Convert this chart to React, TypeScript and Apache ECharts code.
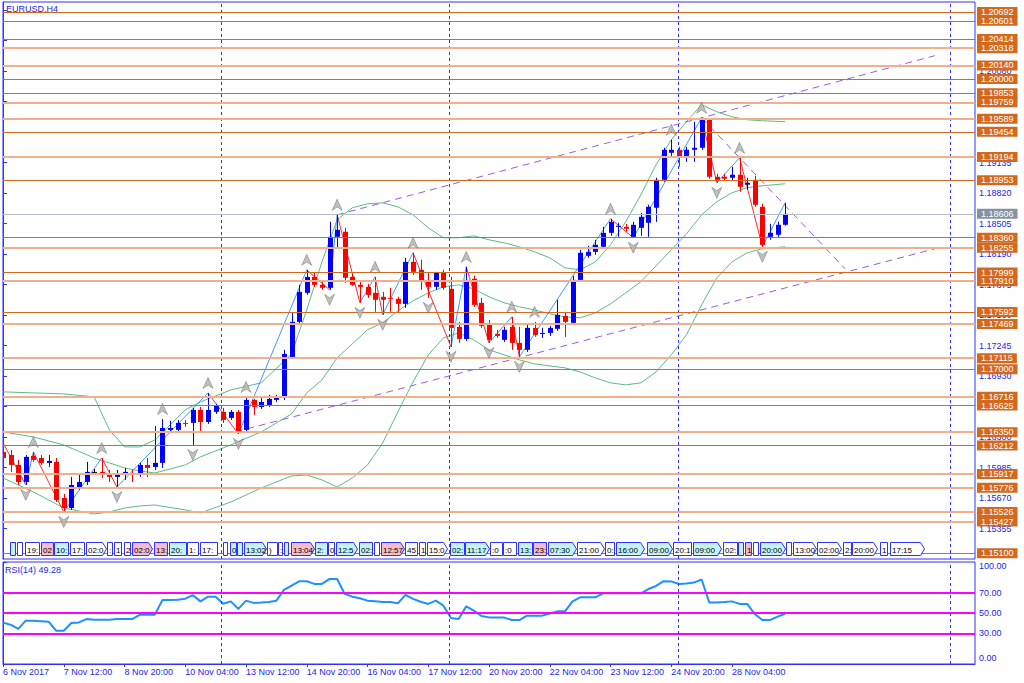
import React, { useEffect, useRef } from "react";
import * as echarts from "echarts";

const FONT = "Liberation Sans";
const BLUE = "#3030ff";
const TEXT_BLUE = "#2424f0";

const PRICE_MIN = 1.1504;
const PRICE_MAX = 1.20795;
const PRICE_STEP = 0.00315;

const X_TICK_LABELS = [
  "6 Nov 2017", "7 Nov 12:00", "8 Nov 20:00", "10 Nov 04:00", "13 Nov 12:00",
  "14 Nov 20:00", "16 Nov 04:00", "17 Nov 12:00", "20 Nov 20:00", "22 Nov 04:00",
  "23 Nov 12:00", "24 Nov 20:00", "28 Nov 04:00",
];
const X_TICK_VALUES = [0, 8, 16, 24, 32, 40, 48, 56, 64, 72, 80, 88, 96];

const opens = [
  1.16146, 1.16115, 1.16012, 1.15836, 1.16105, 1.16084, 1.16033, 1.16043, 1.15671, 1.15567,
  1.15784, 1.15836, 1.1594, 1.1594, 1.15908, 1.15888, 1.15908, 1.15929, 1.15908, 1.16012,
  1.15991, 1.16033, 1.16374, 1.16374, 1.16446, 1.16446, 1.1658, 1.16456, 1.1656, 1.1656,
  1.16498, 1.1656, 1.16374, 1.16684, 1.16611, 1.16632, 1.16684, 1.16705, 1.17128, 1.1749,
  1.1779, 1.17955, 1.17873, 1.17842, 1.18369, 1.18421, 1.17955, 1.17873, 1.17852, 1.1779,
  1.17749, 1.17738, 1.17728, 1.17676, 1.1811, 1.18028, 1.17924, 1.17852, 1.17997, 1.17831,
  1.17439, 1.17314, 1.17935, 1.17687, 1.17459, 1.17366, 1.17304, 1.17439, 1.17273, 1.17201,
  1.17428, 1.17366, 1.17376, 1.17418, 1.17552, 1.1748, 1.17924, 1.18173, 1.18214, 1.18266,
  1.1841, 1.18472, 1.18472, 1.18369, 1.18462, 1.18514, 1.18669, 1.18958, 1.19237, 1.19268,
  1.19196, 1.19268, 1.19289, 1.19578, 1.18989, 1.18989, 1.18979, 1.1901, 1.18907, 1.18958,
  1.18679, 1.18369, 1.1839, 1.18493,
];
const highs = [
  1.16239, 1.16167, 1.16064, 1.16115, 1.16146, 1.16115, 1.16115, 1.16084, 1.15712, 1.15888,
  1.15908, 1.16043, 1.15971, 1.16084, 1.1596, 1.1596, 1.15981, 1.1596, 1.16033, 1.16084,
  1.16415, 1.16487, 1.16467, 1.16477, 1.16477, 1.16601, 1.16611, 1.16756, 1.16642, 1.16601,
  1.1658, 1.1658, 1.16715, 1.16694, 1.16705, 1.16736, 1.16736, 1.17201, 1.17583, 1.17873,
  1.18028, 1.18007, 1.17904, 1.18524, 1.18596, 1.18462, 1.17986, 1.17904, 1.17883, 1.17955,
  1.178, 1.17842, 1.17749, 1.18152, 1.18204, 1.18131, 1.18007, 1.18007, 1.18028, 1.17955,
  1.1749, 1.18059, 1.17966, 1.17738, 1.17511, 1.17408, 1.17439, 1.17542, 1.17439, 1.17459,
  1.1749, 1.17428, 1.17449, 1.17718, 1.17594, 1.17966, 1.18235, 1.18276, 1.18338, 1.18472,
  1.18555, 1.18514, 1.18503, 1.18524, 1.18617, 1.187, 1.18979, 1.19289, 1.19372, 1.19299,
  1.19299, 1.19558, 1.19599, 1.19589, 1.1902, 1.1902, 1.19093, 1.19186, 1.18979, 1.19,
  1.1871, 1.18503, 1.18524, 1.1872,
];
const lows = [
  1.16043, 1.1594, 1.15805, 1.15805, 1.16043, 1.16012, 1.15991, 1.15629, 1.15526, 1.15547,
  1.15753, 1.15805, 1.15908, 1.15877, 1.15836, 1.15784, 1.15857, 1.15836, 1.15888, 1.15888,
  1.1596, 1.15981, 1.16343, 1.16353, 1.16405, 1.16219, 1.16353, 1.16436, 1.16539, 1.16446,
  1.16477, 1.16332, 1.16353, 1.16529, 1.16591, 1.16611, 1.16663, 1.16684, 1.17118, 1.17459,
  1.17769, 1.17852, 1.17821, 1.17821, 1.18255, 1.17893, 1.17862, 1.17687, 1.17738, 1.17594,
  1.17563, 1.17594, 1.17594, 1.17635, 1.17976, 1.17821, 1.17738, 1.17821, 1.17821, 1.17232,
  1.17273, 1.17294, 1.17645, 1.17428, 1.17273, 1.17325, 1.17283, 1.17201, 1.17128, 1.1718,
  1.17335, 1.17325, 1.17345, 1.17397, 1.17335, 1.17459, 1.17904, 1.18152, 1.18183, 1.18245,
  1.18379, 1.18369, 1.18421, 1.18359, 1.18379, 1.18369, 1.18524, 1.18938, 1.19196, 1.19093,
  1.19144, 1.19144, 1.19268, 1.18969, 1.18927, 1.18948, 1.18948, 1.18834, 1.18855, 1.18679,
  1.18266, 1.18338, 1.18369, 1.18483,
];
const closes = [
  1.16084, 1.16012, 1.15836, 1.16095, 1.16064, 1.16033, 1.16053, 1.1565, 1.15567, 1.15805,
  1.15836, 1.1594, 1.1594, 1.15908, 1.15888, 1.15919, 1.1594, 1.15908, 1.16012, 1.15981,
  1.16033, 1.16394, 1.16394, 1.16446, 1.16436, 1.1658, 1.16456, 1.1658, 1.16622, 1.16477,
  1.1656, 1.16353, 1.16684, 1.16611, 1.16663, 1.16694, 1.16715, 1.17159, 1.1749, 1.178,
  1.17955, 1.17873, 1.17842, 1.18369, 1.18441, 1.17945, 1.17873, 1.17852, 1.17769, 1.17718,
  1.17718, 1.17728, 1.17676, 1.1811, 1.18007, 1.17904, 1.17852, 1.17997, 1.17842, 1.17428,
  1.17314, 1.17924, 1.17666, 1.17449, 1.17304, 1.17345, 1.17408, 1.17273, 1.17201, 1.17428,
  1.17356, 1.17376, 1.17428, 1.17563, 1.1749, 1.17924, 1.18204, 1.18214, 1.18286, 1.1841,
  1.18524, 1.18483, 1.18452, 1.18493, 1.18576, 1.18679, 1.18958, 1.19268, 1.19268, 1.19196,
  1.19268, 1.19289, 1.19578, 1.18989, 1.18958, 1.18969, 1.1901, 1.18886, 1.18927, 1.187,
  1.18286, 1.1841, 1.18493, 1.18606,
];

const bandBars = [
  0, 4, 8, 12, 14, 16, 18, 20, 24, 26, 30, 34, 38, 40, 42, 44, 46, 48, 50, 52, 54, 56, 58,
  60, 62, 64, 66, 68, 70, 72, 74, 76, 78, 80, 82, 84, 86, 88, 90, 92, 94, 96, 98, 100, 103,
];
const upperBand = [
  1.16767, 1.16756, 1.16746, 1.16715, 1.16374, 1.16198, 1.16198, 1.1627, 1.1658, 1.16663,
  1.16787, 1.1686, 1.17159, 1.17614, 1.1811, 1.18545, 1.18669, 1.1871, 1.1872, 1.18679,
  1.18596, 1.18462, 1.18359, 1.18359, 1.18379, 1.18338, 1.18307, 1.18266, 1.18214, 1.18152,
  1.18048, 1.18028, 1.1811, 1.18286, 1.18524, 1.18803, 1.19113, 1.19372, 1.19558, 1.19734,
  1.19661, 1.19609, 1.19578, 1.19568, 1.19558,
];
const middleBand = [
  1.16353, 1.16301, 1.16219, 1.16084, 1.16033, 1.15981, 1.1595, 1.15929, 1.16012, 1.16095,
  1.16219, 1.16353, 1.16539, 1.16756, 1.16891, 1.17118, 1.17263, 1.17408, 1.1748, 1.17604,
  1.17707, 1.1779, 1.17852, 1.17873, 1.17831, 1.17749, 1.17687, 1.17645, 1.17614, 1.17573,
  1.17542, 1.17532, 1.17583, 1.17676, 1.1779, 1.17904, 1.18069, 1.18235, 1.184, 1.18596,
  1.18731, 1.18824, 1.18876, 1.18896, 1.18917,
];
const lowerBand = [
  1.15877, 1.15733, 1.15567, 1.15505, 1.15526, 1.15567, 1.15588, 1.15598, 1.15547, 1.15516,
  1.15629, 1.15774, 1.15898, 1.15908, 1.15857, 1.15784, 1.15877, 1.16012, 1.16239, 1.1656,
  1.1687, 1.17149, 1.17325, 1.17376, 1.17304, 1.17201, 1.17149, 1.17097, 1.17056, 1.17035,
  1.17015, 1.16973, 1.16911, 1.1686, 1.16839, 1.1686, 1.16973, 1.17149, 1.17356, 1.17666,
  1.17945, 1.1811, 1.18204, 1.18245, 1.18266,
];

const rsi = [
  40.6, 38.5, 34.5, 42.5, 42.5, 42, 41.5, 32.6, 32.6, 40.2,
  40.8, 44, 43.4, 43.4, 43.4, 44, 44.1, 44.1, 48.2, 48.3,
  48.4, 62.8, 62.8, 62.9, 64, 67.5, 61.4, 66, 66, 59,
  61.4, 54, 62.1, 59.9, 60.3, 60.8, 62.1, 72.6, 76.9, 81.1,
  81.1, 78.5, 78.5, 83.4, 83.4, 68.7, 66, 64.5, 62.1, 61.5,
  60.8, 60.8, 59.5, 67.7, 63.8, 61, 58.9, 62.1, 57.2, 45.1,
  44.1, 56.5, 52.3, 47, 45.7, 45.7, 45.5, 43.1, 43.1, 47.4,
  47.4, 47.4, 49.5, 51.6, 51.6, 61.4, 65.4, 65.4, 65.4, 69.3,
  69.3, 69.3, 69.3, 69.3, 69.3, 73.5, 76.5, 81.2, 81, 78.5,
  79, 79.8, 82.8, 60.4, 60.4, 60.8, 61.4, 58.9, 58.9, 49,
  43.1, 43.1, 46.5, 49.28,
];
const rsiLevels = [30, 50, 70];

const zigzagBars = [0, 3, 4, 8, 13, 15, 27, 31, 40, 43, 44, 47, 49, 50, 54, 59, 61, 64, 67, 68, 80, 83, 92, 94, 97, 100, 103];
const fractalUp = [4, 13, 21, 27, 32, 40, 44, 49, 54, 61, 67, 70, 80, 88, 92, 97];
const fractalDown = [3, 8, 15, 25, 31, 43, 47, 50, 56, 59, 64, 68, 83, 94, 100];

const trendStart = [[44, 1.18596], [30.6, 1.16353], [92, 1.19599]];
const trendEnd = [[122.7, 1.2024], [122.7, 1.18245], [110.9, 1.18038]];

const weekSeparators = [28.8, 58.8, 88.9, 124.7];

const levels = [
  1.20692, 1.20601, 1.20414, 1.20318, 1.2014, 1.2, 1.19853, 1.19759, 1.19589, 1.19454,
  1.19194, 1.18953, 1.1836, 1.18255, 1.17999, 1.1791, 1.17592, 1.17469, 1.17115, 1.17,
  1.16716, 1.16625, 1.1635, 1.16212, 1.15917, 1.15776, 1.15526, 1.15427, 1.151,
];
const levelKind = [
  "d", "d", "d", "l", "l", "d", "d", "l", "l", "d",
  "l", "d", "d", "l", "d", "l", "d", "l", "l", "d",
  "l", "d", "l", "d", "l", "l", "l", "l", "d",
];
const currentPrice = 1.18606;

const boxStart = [
  0.92, 1.88, 2.9, 4.96, 6.72, 8.82, 10.93, 13.7, 14.62, 15.93, 16.95, 19.88, 21.86, 24.23, 25.94,
  28.93, 29.89, 30.81, 31.74, 34.76, 36.21, 37.0, 37.92, 41.08, 42.8, 43.85, 46.88, 48.85, 49.78,
  52.94, 54.78, 55.83, 58.86, 60.84, 64.13, 65.84, 67.82, 69.79, 71.77, 75.59, 79.27, 80.72, 84.8,
  88.23, 90.86, 94.81, 96.79, 97.71, 98.76, 99.68, 103.11, 104.03, 107.19, 110.61, 111.8, 115.49, 116.8,
];
const boxEnd = [
  1.71, 2.67, 4.87, 6.62, 8.73, 10.8, 13.7, 14.5, 15.67, 16.82, 19.75, 21.73, 24.23, 25.81, 28.31,
  29.63, 30.81, 31.6, 34.76, 36.21, 36.9, 37.66, 41.08, 42.8, 43.72, 46.75, 48.72, 49.64, 52.94,
  54.65, 55.7, 58.6, 60.84, 64.13, 65.84, 67.68, 69.79, 71.64, 75.59, 79.27, 80.59, 84.54, 88.23,
  90.73, 94.68, 96.79, 97.58, 98.63, 99.55, 103.11, 103.9, 107.19, 110.48, 111.8, 115.22, 116.54, 121.41,
];
const boxText = [
  "1", "1", "19:", "02:", "10:", "17:", "02:00", ":", "1", "2", "02:01", "13:", "20:00", "1:", "17:",
  "0", "0", "1", "13:02", ")", ":", "0", "13:04", "2:", "0", "12:5", "02:", "1", "12:57",
  "45", "1", "15:0", "02:", "11:17", ":00", ":0", "13:", "23:", "07:30", "21:00", "0:", "16:00", "09:00",
  "20:15", "09:00", "02:", "0", "1", "1", "20:00", "1", "13:00", "02:00", "2:", "20:00", "1", "17:15",
];
const boxKind = [
  "c", "w", "w", "p", "c", "w", "w", "w", "w", "w", "p", "p", "c", "w", "w",
  "w", "c", "c", "c", "w", "w", "c", "p", "c", "w", "c", "c", "w", "p",
  "w", "w", "w", "c", "c", "w", "w", "c", "p", "c", "w", "w", "c", "c",
  "w", "c", "w", "c", "p", "w", "c", "w", "w", "w", "w", "w", "w", "w",
];

function buildOption() {
  const candleData = opens.map((o, i) => [i, o, highs[i], lows[i], closes[i]]);

  const zzSegments: any[] = [];
  for (let k = 0; k < zigzagBars.length - 1; k++) {
    const a = zigzagBars[k];
    const b = zigzagBars[k + 1];
    const aHigh = k % 2 === 0;
    const pa = aHigh ? highs[a] : lows[a];
    const pb = aHigh ? lows[b] : highs[b];
    zzSegments.push({
      coords: [[a, pa], [b, pb]],
      lineStyle: { color: aHigh ? "#ff2a2a" : "#3d9bff", width: 1, opacity: 1 },
    });
  }

  const levelLines: any[] = levels.map((v, k) => ({
    yAxis: v,
    lineStyle: {
      color: levelKind[k] === "d" ? "#d2691e" : "#efb08a",
      width: levelKind[k] === "d" ? 1 : 2,
      type: "solid",
    },
    label: {
      show: true,
      position: "end",
      distance: 2,
      formatter: v.toFixed(5),
      color: "#ffffff",
      backgroundColor: "#d2691e",
      padding: [1, 4, 0, 4],
      fontSize: 9,
      fontFamily: FONT,
    },
  }));
  levelLines.push({
    yAxis: currentPrice,
    lineStyle: { color: "#b4bec8", width: 1, type: "solid" },
    label: {
      show: true,
      position: "end",
      distance: 2,
      formatter: currentPrice.toFixed(5),
      color: "#ffffff",
      backgroundColor: "#8593a0",
      padding: [1, 4, 0, 4],
      fontSize: 9,
      fontFamily: FONT,
    },
  });
  const sepLines = weekSeparators.map((x) => ({
    xAxis: x,
    lineStyle: { color: BLUE, width: 1, type: [3, 3] },
    label: { show: false },
  }));

  const upPath = "path://M5,0L10,10L5,7L0,10Z";
  const downPath = "path://M0,0L5,3L10,0L5,10Z";

  return {
    animation: false,
    backgroundColor: "#ffffff",
    textStyle: { fontFamily: FONT },
    title: [
      {
        text: "EURUSD.H4",
        left: 6,
        top: 4,
        padding: 0,
        textStyle: { color: TEXT_BLUE, fontSize: 9, fontWeight: "normal", fontFamily: FONT },
      },
      {
        text: "RSI(14) 49.28",
        left: 5,
        top: 565,
        padding: 0,
        textStyle: { color: TEXT_BLUE, fontSize: 9, fontWeight: "normal", fontFamily: FONT },
      },
    ],
    grid: [
      { left: 3, right: 49, top: 2, height: 557, show: true, borderColor: BLUE, borderWidth: 1, backgroundColor: "#ffffff" },
      { left: 3, right: 49, top: 562, height: 102, show: true, borderColor: BLUE, borderWidth: 1, backgroundColor: "#ffffff" },
    ],
    xAxis: [
      { type: "value", gridIndex: 0, min: 0, max: 128, show: false },
      {
        type: "value",
        gridIndex: 1,
        min: 0,
        max: 128,
        interval: 8,
        axisLine: { show: true, lineStyle: { color: BLUE } },
        axisTick: { show: true, length: 3, lineStyle: { color: BLUE }, customValues: X_TICK_VALUES },
        splitLine: { show: false },
        axisLabel: {
          color: TEXT_BLUE,
          fontSize: 9,
          fontFamily: FONT,
          align: "left",
          margin: 3,
          showMaxLabel: false,
          formatter: (v: number) => {
            const k = Math.round(v / 8);
            return Math.abs(v - k * 8) < 1e-6 && k < X_TICK_LABELS.length ? X_TICK_LABELS[k] : "";
          },
        },
      },
    ],
    yAxis: [
      {
        type: "value",
        gridIndex: 0,
        position: "right",
        min: PRICE_MIN,
        max: PRICE_MAX,
        interval: PRICE_STEP,
        axisLine: { show: true, lineStyle: { color: BLUE } },
        axisTick: { show: true, length: 4, lineStyle: { color: BLUE } },
        splitLine: { show: false },
        axisLabel: {
          color: TEXT_BLUE,
          fontSize: 9,
          fontFamily: FONT,
          margin: 4,
          showMinLabel: false,
          showMaxLabel: false,
          formatter: (v: number) => v.toFixed(5),
        },
      },
      {
        type: "value",
        gridIndex: 1,
        position: "right",
        min: 0,
        max: 100,
        axisLine: { show: true, lineStyle: { color: BLUE } },
        axisTick: { show: true, length: 4, lineStyle: { color: BLUE }, customValues: [0, 30, 50, 70, 100] },
        splitLine: { show: false },
        axisLabel: {
          color: TEXT_BLUE,
          fontSize: 9,
          fontFamily: FONT,
          margin: 4,
          customValues: [0, 30, 50, 70, 100],
          formatter: (v: number) => {
            if (v >= 100) return "{t|100.00}";
            if (v <= 0) return "{b|0.00}";
            return v.toFixed(2);
          },
          rich: {
            t: { color: TEXT_BLUE, fontSize: 9, fontFamily: FONT, padding: [8, 0, 0, 0] },
            b: { color: TEXT_BLUE, fontSize: 9, fontFamily: FONT, padding: [0, 0, 13, 0] },
          },
        },
      },
    ],
    series: [
      {
        name: "levels",
        type: "line",
        xAxisIndex: 0,
        yAxisIndex: 0,
        data: [[0, PRICE_MIN]],
        symbol: "none",
        lineStyle: { opacity: 0 },
        silent: true,
        z: 1,
        clip: false,
        markLine: {
          silent: true,
          precision: 6,
          symbol: ["none", "none"],
          animation: false,
          data: [...sepLines, ...levelLines],
        },
      },
      ...[upperBand, middleBand, lowerBand].map((band) => ({
        type: "line",
        xAxisIndex: 0,
        yAxisIndex: 0,
        data: bandBars.map((b, k) => [b, band[k]]),
        symbol: "none",
        smooth: false,
        silent: true,
        z: 2,
        lineStyle: { color: "#5dbb82", width: 1 },
      })),
      {
        type: "lines",
        coordinateSystem: "cartesian2d",
        xAxisIndex: 0,
        yAxisIndex: 0,
        silent: true,
        z: 2,
        data: trendStart.map((s, k) => ({ coords: [s, trendEnd[k]] })),
        lineStyle: { color: "#a05ad8", width: 1, type: [7, 5], opacity: 1 },
      },
      {
        type: "lines",
        coordinateSystem: "cartesian2d",
        xAxisIndex: 0,
        yAxisIndex: 0,
        silent: true,
        z: 3,
        data: zzSegments,
      },
      {
        type: "custom",
        xAxisIndex: 0,
        yAxisIndex: 0,
        silent: true,
        z: 4,
        clip: true,
        data: candleData,
        encode: { x: 0, y: [1, 2, 3, 4] },
        renderItem: (params: any, api: any) => {
          const i = api.value(0);
          const o = api.value(1);
          const h = api.value(2);
          const l = api.value(3);
          const c = api.value(4);
          const po = api.coord([i, o]);
          const pc = api.coord([i, c]);
          const ph = api.coord([i, h]);
          const pl = api.coord([i, l]);
          const color = c === o ? "#000000" : c > o ? "#0000ff" : "#ff0000";
          const cx = Math.round(po[0]);
          const top = Math.min(po[1], pc[1]);
          const bh = Math.max(Math.abs(po[1] - pc[1]), 1);
          return {
            type: "group",
            children: [
              {
                type: "line",
                shape: { x1: cx + 0.5, y1: ph[1], x2: cx + 0.5, y2: pl[1] },
                style: { stroke: color, lineWidth: 1 },
              },
              {
                type: "rect",
                shape: { x: cx - 2, y: top, width: 5, height: bh },
                style: { fill: color },
              },
            ],
          };
        },
      },
      {
        type: "scatter",
        xAxisIndex: 0,
        yAxisIndex: 0,
        silent: true,
        z: 5,
        symbol: upPath,
        symbolSize: [10, 11],
        symbolOffset: [0, -10],
        itemStyle: { color: "#b0b0b0", borderColor: "#6a6a6a", borderWidth: 0.6 },
        data: fractalUp.map((i) => [i, highs[i]]),
      },
      {
        type: "scatter",
        xAxisIndex: 0,
        yAxisIndex: 0,
        silent: true,
        z: 5,
        symbol: downPath,
        symbolSize: [10, 11],
        symbolOffset: [0, 10],
        itemStyle: { color: "#b0b0b0", borderColor: "#6a6a6a", borderWidth: 0.6 },
        data: fractalDown.map((i) => [i, lows[i]]),
      },
      {
        type: "custom",
        xAxisIndex: 0,
        yAxisIndex: 0,
        silent: true,
        z: 6,
        clip: false,
        data: boxStart.map((s, k) => [s, boxEnd[k]]),
        encode: { x: [0, 1] },
        renderItem: (params: any, api: any) => {
          const k = params.dataIndex;
          const cs = params.coordSys;
          const x1 = api.coord([api.value(0), PRICE_MIN])[0];
          const x2 = api.coord([api.value(1), PRICE_MIN])[0];
          const yb = cs.y + cs.height - 4;
          const h = 13;
          const kind = boxKind[k];
          const fill = kind === "c" ? "#c4f3f7" : kind === "p" ? "#f5bccb" : "#ffffff";
          const w = Math.max(3, Math.round(x2 - x1) - 1);
          const left = Math.round(x1) + 0.5;
          const top = Math.round(yb - h) + 0.5;
          const arrow = w > 18;
          const shape = arrow
            ? {
                type: "polygon",
                shape: {
                  points: [
                    [left, top],
                    [left + w - 4, top],
                    [left + w, top + h / 2],
                    [left + w - 4, top + h],
                    [left, top + h],
                  ],
                },
                style: { fill, stroke: BLUE, lineWidth: 1 },
              }
            : {
                type: "rect",
                shape: { x: left, y: top, width: w, height: h },
                style: { fill, stroke: BLUE, lineWidth: 1 },
              };
          return {
            type: "group",
            children: [
              shape,
              {
                type: "text",
                style: {
                  text: boxText[k],
                  x: Math.round(x1) + 2,
                  y: Math.round(yb - h / 2) + 1,
                  verticalAlign: "middle",
                  align: "left",
                  fill: "#000000",
                  fontSize: 8,
                  fontFamily: FONT,
                  width: w,
                  overflow: "truncate",
                  ellipsis: "",
                },
              },
            ],
          };
        },
      },
      {
        type: "line",
        xAxisIndex: 1,
        yAxisIndex: 1,
        data: rsi.map((v, i) => [i, v]),
        symbol: "none",
        silent: true,
        z: 3,
        lineStyle: { color: "#1e90ff", width: 2 },
        markLine: {
          silent: true,
          precision: 4,
          symbol: ["none", "none"],
          animation: false,
          data: [
            ...rsiLevels.map((v) => ({
              yAxis: v,
              lineStyle: { color: "#ff00ff", width: 2, type: "solid" },
              label: { show: false },
            })),
            ...sepLines,
          ],
        },
      },
    ],
  };
}

export default function App() {
  const ref = useRef<HTMLDivElement>(null);
  useEffect(() => {
    if (!ref.current) return;
    const chart = echarts.init(ref.current, null, { renderer: "svg" });
    chart.setOption(buildOption() as any);
    return () => chart.dispose();
  }, []);
  return (
    <div
      ref={ref}
      style={{ position: "absolute", left: 0, top: 0, width: 1024, height: 683, background: "#ffffff" }}
    />
  );
}
